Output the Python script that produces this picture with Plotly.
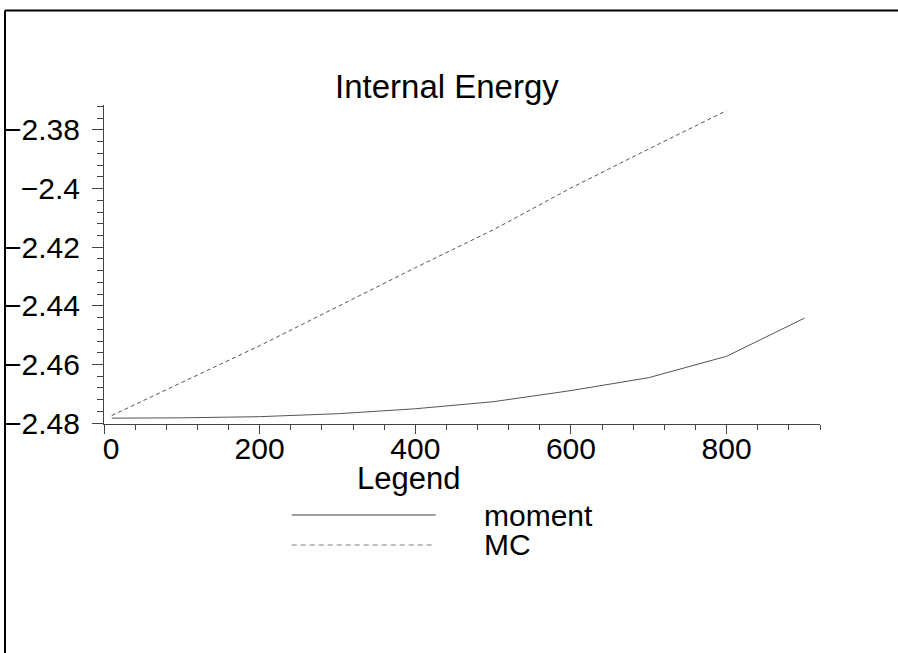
import plotly.graph_objects as go

# ---- data ----
x_moment = [10, 100, 200, 300, 400, 500, 600, 700, 800, 900]
y_moment = [-2.4783, -2.4782, -2.4778, -2.4768, -2.4751, -2.4727, -2.4689, -2.4645, -2.4572, -2.4442]
x_mc = [10, 100, 200, 300, 400, 500, 600, 700, 800]
y_mc = [-2.4774, -2.4662, -2.4536, -2.4403, -2.4270, -2.4141, -2.3998, -2.3865, -2.3734]

x_tickvals = [0, 200, 400, 600, 800]
x_ticktext = ["\u2009\u00a00", "200", "400", "600", "800"]
y_tickvals = [-2.48, -2.46, -2.44, -2.42, -2.40, -2.38]
y_ticktext = ["\u22122.48", "\u22122.46", "\u22122.44", "\u22122.42", "\u22122.4", "\u22122.38"]

series_names = ["moment", "MC"]
title_text = "Internal Energy"
legend_title = "Legend"

# ---- layout geometry ----
W, H = 898, 653
ML, MR, MT, MB = 104, 78, 105, 229
PW, PH = W - ML - MR, H - MT - MB
FONT = "Liberation Sans, Arial, Helvetica, sans-serif"
LINE_COLOR = "#555555"


def px_x(px):
    return (px - ML) / PW


def px_y(py):
    return (H - MB - py) / PH


fig = go.Figure()
fig.add_trace(go.Scatter(x=x_moment, y=y_moment, mode="lines", name=series_names[0],
                         line=dict(color=LINE_COLOR, width=1)))
fig.add_trace(go.Scatter(x=x_mc, y=y_mc, mode="lines", name=series_names[1],
                         line=dict(color=LINE_COLOR, width=1, dash="4px,3px")))

axis_common = dict(showgrid=False, zeroline=False, showline=True, linecolor="#444444",
                   linewidth=1, ticks="outside", tickcolor="#444444", tickwidth=1,
                   automargin=False,
                   tickfont=dict(family=FONT, size=30, color="black"))

fig.update_xaxes(range=[0, 920], tickmode="array", tickvals=x_tickvals, ticktext=x_ticktext,
                 ticklen=9, ticklabelstandoff=-11,
                 minor=dict(ticks="outside", dtick=40, tick0=0, ticklen=5, tickcolor="#444444"),
                 **axis_common)
fig.update_yaxes(range=[-2.4803, -2.3715], tickmode="array", tickvals=y_tickvals, ticktext=y_ticktext,
                 ticklen=11, ticklabelstandoff=6,
                 minor=dict(ticks="outside", dtick=0.004, tick0=-2.48, ticklen=6, tickcolor="#444444"),
                 **axis_common)

annotations = [
    dict(text=title_text, x=px_x(446.7), y=px_y(87), font=dict(family=FONT, size=33, color="black")),
    dict(text=legend_title, x=px_x(408), y=px_y(478), font=dict(family=FONT, size=31, color="black")),
    dict(text=series_names[0], x=px_x(481.7), y=px_y(515.5), xanchor="left",
         font=dict(family=FONT, size=30, color="black")),
    dict(text=series_names[1], x=px_x(481.7), y=px_y(544), xanchor="left",
         font=dict(family=FONT, size=30, color="black")),
]
for a in annotations:
    a.setdefault("xanchor", "center")
    a.update(xref="paper", yref="paper", yanchor="middle", showarrow=False)

shapes = [
    # legend samples
    dict(type="line", x0=px_x(291.7), x1=px_x(435.7), y0=px_y(515), y1=px_y(515),
         line=dict(color="#808080", width=1.5)),
    dict(type="line", x0=px_x(291.7), x1=px_x(435.7), y0=px_y(545), y1=px_y(545),
         line=dict(color="#808080", width=1.2, dash="5px,4px")),
    # outer frame (left and top edges)
    dict(type="line", x0=px_x(5), x1=px_x(5), y0=px_y(10.5), y1=px_y(665),
         line=dict(color="black", width=2)),
    dict(type="line", x0=px_x(5), x1=px_x(910), y0=px_y(10.5), y1=px_y(10.5),
         line=dict(color="black", width=2)),
]
for s in shapes:
    s.update(xref="paper", yref="paper", layer="above")

fig.update_layout(width=W, height=H, margin=dict(l=ML, r=MR, t=MT, b=MB, pad=0, autoexpand=False),
                  paper_bgcolor="white", plot_bgcolor="white", showlegend=False,
                  annotations=annotations, shapes=shapes,
                  font=dict(family=FONT, color="black"))

fig.write_html("out.html")
